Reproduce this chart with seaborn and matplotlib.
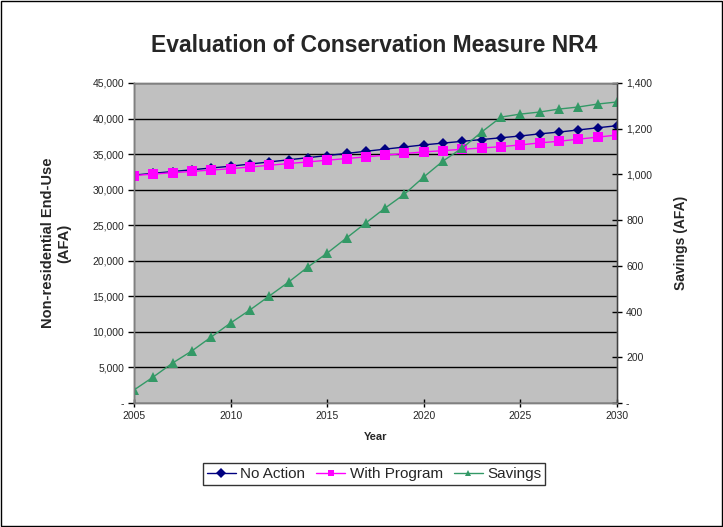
"""
Evaluation of Conservation Measure NR4: end-use with and without program, plus savings.
"""

import matplotlib.pyplot as plt
import matplotlib.ticker as mticker
import pandas as pd
import seaborn as sns

YEARS = list(range(2005, 2031))
NO_ACTION = [32050, 32300, 32550, 32800, 33050, 33300, 33600, 33900, 34200, 34500,
             34800, 35100, 35400, 35700, 36000, 36300, 36550, 36800, 37050, 37300,
             37550, 37850, 38100, 38400, 38700, 39000]
WITH_PROGRAM = [31990, 32190, 32380, 32570, 32760, 32950, 33190, 33430, 33670, 33900,
                34140, 34380, 34610, 34850, 35090, 35310, 35490, 35680, 35860, 36050,
                36290, 36580, 36810, 37100, 37390, 37680]
SAVINGS = [57, 114, 175, 228, 289, 350, 407, 468, 529, 595, 656, 722, 788, 853, 914,
           989, 1059, 1116, 1186, 1251, 1264, 1273, 1286, 1295, 1308, 1317]

sns.set_style("white")
plt.rcParams["font.family"] = ["Liberation Sans", "DejaVu Sans"]


def fmt_thousands(value, _pos):
    if abs(value) < 1e-9:
        return "-"
    return f"{value:,.0f}"


def main() -> None:
    df = pd.DataFrame({
        "Year": YEARS,
        "No Action": NO_ACTION,
        "With Program": WITH_PROGRAM,
        "Savings": SAVINGS,
    })

    fig = plt.figure(figsize=(7.23, 5.27), dpi=100)
    ax = fig.add_axes([134 / 723, 1 - 403 / 527, (617 - 134) / 723, (403 - 83) / 527])
    ax2 = ax.twinx()

    ax.set_facecolor("#C0C0C0")
    ax.set_zorder(ax2.get_zorder() - 1)
    ax2.patch.set_visible(False)

    line_kw = dict(linewidth=1.0, markersize=6.5, markeredgewidth=0)
    sns.lineplot(data=df, x="Year", y="No Action", ax=ax, color="#000080", marker="D",
                 label="No Action", legend=False, **{**line_kw, "markersize": 5.5})
    sns.lineplot(data=df, x="Year", y="With Program", ax=ax, color="#FF00FF", marker="s",
                 label="With Program", legend=False, **line_kw)
    sns.lineplot(data=df, x="Year", y="Savings", ax=ax2, color="#339966", marker="^",
                 label="Savings", legend=False, **{**line_kw, "markersize": 7})

    ax.set_xlim(2005, 2030)
    ax.set_ylim(0, 45000)
    ax2.set_ylim(0, 1400)
    ax.set_xticks(range(2005, 2031, 5))
    ax.set_yticks(range(0, 45001, 5000))
    ax2.set_yticks(range(0, 1401, 200))
    ax.yaxis.set_major_formatter(mticker.FuncFormatter(fmt_thousands))
    ax2.yaxis.set_major_formatter(mticker.FuncFormatter(fmt_thousands))

    ax.grid(axis="y", color="black", linewidth=1.0)
    ax.set_axisbelow(True)

    for a in (ax, ax2):
        for side in ("top", "bottom", "left", "right"):
            a.spines[side].set_color("#808080")
            a.spines[side].set_linewidth(1.0)
        a.tick_params(axis="both", labelsize=7.5, length=4, width=1, color="black", pad=3)
    ax.spines["left"].set_color("#404040")
    ax2.spines["right"].set_color("#404040")
    ax.tick_params(axis="y", direction="out", left=True)
    ax.tick_params(axis="x", direction="inout", bottom=True, length=6)
    ax2.tick_params(axis="y", direction="inout", right=True, length=7)

    ax.set_xlabel("Year", fontsize=8, fontweight="bold", labelpad=8)
    ax.set_ylabel("Non-residential End-Use\n(AFA)", fontsize=10.5, fontweight="bold", labelpad=15)
    ax2.set_ylabel("Savings (AFA)", fontsize=10, fontweight="bold", labelpad=16)
    fig.suptitle("Evaluation of Conservation Measure NR4", x=374 / 723, y=1 - 45 / 527,
                 va="center", fontsize=16.5, fontweight="bold")

    handles = ax.get_lines()[:2] + ax2.get_lines()[:1]
    labels = ["No Action", "With Program", "Savings"]
    leg = fig.legend(handles, labels, loc="center", bbox_to_anchor=(374 / 723, 1 - 474 / 527),
                     ncol=3, fontsize=11, frameon=True, fancybox=False, handlelength=1.9,
                     columnspacing=0.7, handletextpad=0.3, borderpad=0.25, borderaxespad=0)
    leg.get_frame().set_edgecolor("black")
    leg.get_frame().set_linewidth(1.0)
    for h in leg.legend_handles:
        h.set_markersize(5)

    fig.patches.append(plt.Rectangle((0.001, 0.001), 0.997, 0.997, transform=fig.transFigure,
                                     fill=False, edgecolor="black", linewidth=1.0))

    fig.savefig("out.png", dpi=100)
    plt.close(fig)


if __name__ == "__main__":
    main()
